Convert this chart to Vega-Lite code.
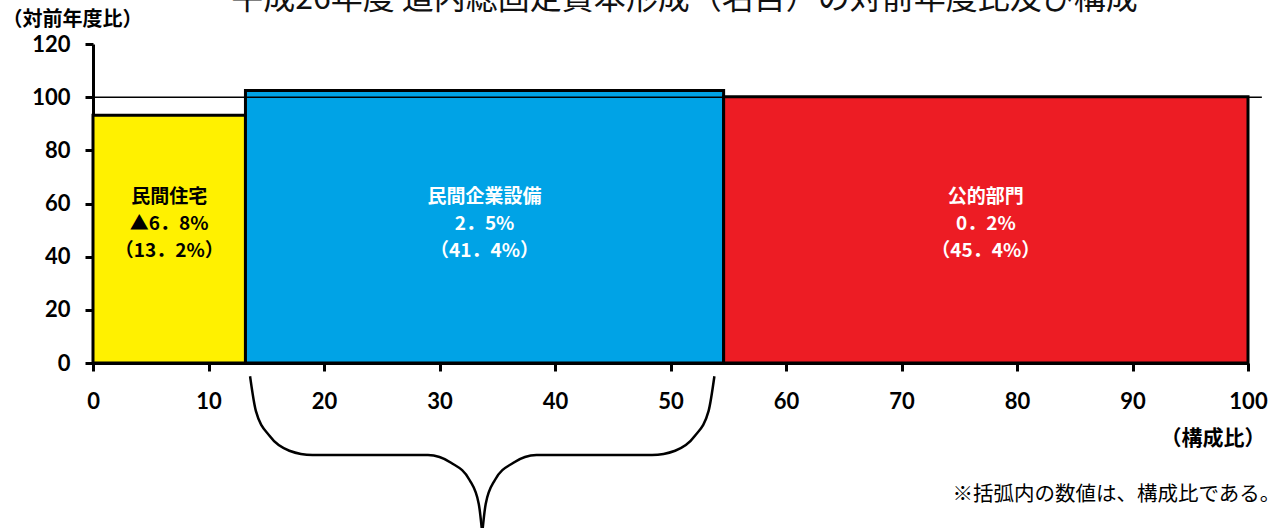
{
  "$schema": "https://vega.github.io/schema/vega-lite/v6.json",
  "width": 1155,
  "height": 319,
  "autosize": {"type": "none"},
  "padding": {"left": 93, "top": 44, "right": 31, "bottom": 165},
  "background": "white",
  "config": {"view": {"stroke": null}, "font": "Noto Sans CJK JP"},
  "title": {
    "text": "平成26年度 道内総固定資本形成（名目）の対前年度比及び構成",
    "font": "Noto Sans CJK JP",
    "fontSize": 32,
    "fontWeight": "normal",
    "color": "#111111",
    "anchor": "middle",
    "frame": "group",
    "offset": 0,
    "dx": 14,
    "dy": 39,
    "baseline": "bottom"
  },
  "datasets": {
    "sectors": [
      {"name": "民間住宅", "start": 0, "end": 13.2, "index": 93.2, "label": "民間住宅\n▲6．8%\n（13．2%）"},
      {"name": "民間企業設備", "start": 13.2, "end": 54.6, "index": 102.5, "label": "民間企業設備\n2．5%\n（41．4%）"},
      {"name": "公的部門", "start": 54.6, "end": 100, "index": 100.2, "label": "公的部門\n0．2%\n（45．4%）"}
    ],
    "ref": [{"from": 0, "to": 101.2, "level": 100}],
    "brace": [
      {"side": "L", "ord": 1, "bx": 13.6, "by": -5},
      {"side": "L", "ord": 2, "bx": 14.1, "by": -18},
      {"side": "L", "ord": 3, "bx": 15.3, "by": -27.5},
      {"side": "L", "ord": 4, "bx": 17.0, "by": -33},
      {"side": "L", "ord": 5, "bx": 19.0, "by": -34.6},
      {"side": "L", "ord": 6, "bx": 29.0, "by": -34.6},
      {"side": "L", "ord": 7, "bx": 31.0, "by": -37.5},
      {"side": "L", "ord": 8, "bx": 32.6, "by": -44},
      {"side": "L", "ord": 9, "bx": 33.4, "by": -53},
      {"side": "L", "ord": 10, "bx": 33.7, "by": -64},
      {"side": "R", "ord": 1, "bx": 33.7, "by": -64},
      {"side": "R", "ord": 2, "bx": 34.0, "by": -53},
      {"side": "R", "ord": 3, "bx": 34.8, "by": -44},
      {"side": "R", "ord": 4, "bx": 36.4, "by": -37.5},
      {"side": "R", "ord": 5, "bx": 38.4, "by": -34.6},
      {"side": "R", "ord": 6, "bx": 48.4, "by": -34.6},
      {"side": "R", "ord": 7, "bx": 50.4, "by": -33},
      {"side": "R", "ord": 8, "bx": 52.1, "by": -27.5},
      {"side": "R", "ord": 9, "bx": 53.3, "by": -18},
      {"side": "R", "ord": 10, "bx": 53.8, "by": -5}
    ],
    "note": [{"text": "※括弧内の数値は、構成比である。"}]
  },
  "layer": [
    {
      "data": {"name": "sectors"},
      "mark": {"type": "rect", "stroke": "black", "strokeWidth": 3},
      "encoding": {
        "x": {
          "field": "start",
          "type": "quantitative",
          "scale": {"domain": [0, 100], "nice": false, "zero": false},
          "axis": {
            "values": [0, 10, 20, 30, 40, 50, 60, 70, 80, 90, 100],
            "title": "（構成比）",
            "titleFont": "Noto Sans CJK JP",
            "titleFontSize": 21,
            "titleFontWeight": "bold",
            "titleColor": "black",
            "titleAlign": "right",
            "titleAnchor": null,
            "titleX": 1172,
            "titleY": 75,
            "titleBaseline": "middle",
            "labelFont": "Lato",
            "labelFontSize": 22,
            "labelFontWeight": "bold",
            "labelColor": "black",
            "labelPadding": 20,
            "labelFlush": false,
            "labelOverlap": false,
            "tickSize": 8,
            "tickWidth": 3,
            "tickColor": "black",
            "domainColor": "black",
            "domainWidth": 3,
            "grid": false
          }
        },
        "x2": {"field": "end"},
        "y": {
          "field": "index",
          "type": "quantitative",
          "scale": {"domain": [0, 120], "nice": false},
          "axis": {
            "values": [0, 20, 40, 60, 80, 100, 120],
            "title": "（対前年度比）",
            "titleFont": "Noto Sans CJK JP",
            "titleFontSize": 20,
            "titleFontWeight": "bold",
            "titleColor": "black",
            "titleAngle": 0,
            "titleAlign": "left",
            "titleAnchor": null,
            "titleX": -91,
            "titleY": -25,
            "titleBaseline": "middle",
            "labelFont": "Lato",
            "labelFontSize": 22,
            "labelFontWeight": "bold",
            "labelColor": "black",
            "labelPadding": 15,
            "labelOverlap": false,
            "tickSize": 8,
            "tickWidth": 3,
            "tickColor": "black",
            "domainColor": "black",
            "domainWidth": 3,
            "grid": false
          }
        },
        "y2": {"datum": 0},
        "fill": {
          "field": "name",
          "type": "nominal",
          "scale": {"domain": ["民間住宅", "民間企業設備", "公的部門"], "range": ["#FFF100", "#00A3E6", "#ED1C24"]},
          "legend": null
        }
      }
    },
    {
      "data": {"name": "ref"},
      "mark": {"type": "rule", "stroke": "black", "strokeWidth": 1.5},
      "encoding": {
        "x": {"field": "from", "type": "quantitative"},
        "x2": {"field": "to"},
        "y": {"field": "level", "type": "quantitative"}
      }
    },
    {
      "data": {"name": "sectors"},
      "transform": [
        {"fold": ["start", "end"], "as": ["edge", "pos"]},
        {"aggregate": [{"op": "mean", "field": "pos", "as": "mid"}], "groupby": ["name", "label"]}
      ],
      "mark": {"type": "text", "lineBreak": "\n", "lineHeight": 27, "fontSize": 19, "fontWeight": "bold", "font": "Noto Sans CJK JP", "align": "center", "baseline": "middle"},
      "encoding": {
        "x": {"field": "mid", "type": "quantitative"},
        "y": {"datum": 62.5, "type": "quantitative"},
        "text": {"field": "label", "type": "nominal"},
        "color": {
          "field": "name",
          "type": "nominal",
          "scale": {"domain": ["民間住宅", "民間企業設備", "公的部門"], "range": ["black", "white", "white"]},
          "legend": null
        }
      }
    },
    {
      "data": {"name": "brace"},
      "mark": {"type": "line", "interpolate": "monotone", "stroke": "black", "strokeWidth": 2.5},
      "encoding": {
        "x": {"field": "bx", "type": "quantitative"},
        "y": {"field": "by", "type": "quantitative"},
        "detail": {"field": "side", "type": "nominal"},
        "order": {"field": "ord", "type": "quantitative"}
      }
    },
    {
      "data": {"name": "note"},
      "mark": {"type": "text", "fontSize": 20.5, "font": "Noto Sans CJK JP", "align": "right", "baseline": "middle", "color": "black"},
      "encoding": {
        "x": {"datum": 102.8, "type": "quantitative"},
        "y": {"datum": -49.6, "type": "quantitative"},
        "text": {"field": "text", "type": "nominal"}
      }
    }
  ]
}
